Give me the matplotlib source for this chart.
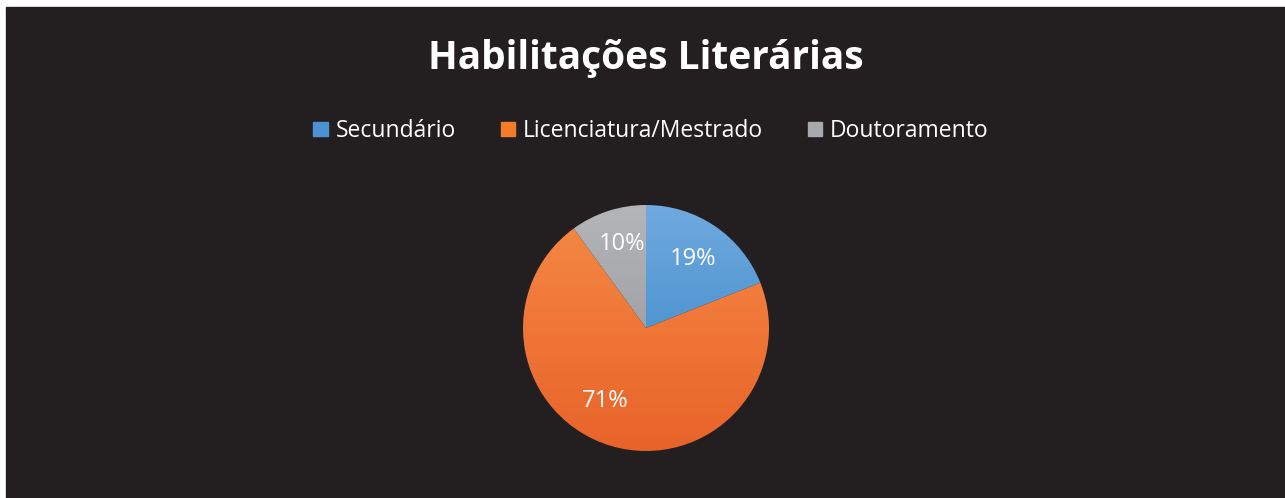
import numpy as np
import matplotlib
matplotlib.use("Agg")
import matplotlib.pyplot as plt
from matplotlib.colors import to_rgb
from matplotlib.patches import Rectangle

# dados
categorias = ["Secundário", "Licenciatura/Mestrado", "Doutoramento"]
valores = [19, 71, 10]
titulo = "Habilitações Literárias"

# cores (topo -> base do gradiente)
cores_topo = ["#70AADF", "#F58A44", "#B4B5B8"]
cores_base = ["#2F7FC3", "#E8632A", "#8F9095"]
cores_legenda = ["#4A92D2", "#F47B2A", "#A8A9AC"]

fundo = "#231F20"
plt.rcParams["font.family"] = ["Open Sans", "DejaVu Sans"]

fig = plt.figure(figsize=(12.85, 4.98), dpi=100)
fig.patch.set_facecolor("white")
fig.patches.append(Rectangle((6 / 1285, 0), 1 - 6 / 1285, 1 - 7 / 498,
                             transform=fig.transFigure, color=fundo, zorder=-10))

# eixo do grafico circular
cx, cy, r = 646, 328, 123
ax = fig.add_axes([(cx - r) / 1285, (498 - cy - r) / 498, 2 * r / 1285, 2 * r / 498])
ax.set_xlim(-1, 1)
ax.set_ylim(-1, 1)
ax.set_aspect("equal")
ax.axis("off")

wedges, textos, autotextos = ax.pie(valores, startangle=90, counterclock=False,
                                    radius=1, autopct="%.0f%%", pctdistance=0.7,
                                    textprops=dict(color="white", fontsize=17))

# gradiente vertical dentro de cada fatia
for w, c1, c2 in zip(wedges, cores_topo, cores_base):
    a = np.array(to_rgb(c1))
    b = np.array(to_rgb(c2))
    t = np.linspace(0, 1, 256)[:, None]
    grad = (a * (1 - t) + b * t)[:, None, :]
    w.set_facecolor("none")
    w.set_edgecolor("none")
    im = ax.imshow(grad, extent=[-1, 1, -1, 1], origin="upper",
                   aspect="auto", zorder=0, interpolation="bilinear")
    im.set_clip_path(w)
ax.set_xlim(-1, 1)
ax.set_ylim(-1, 1)

# posicao dos rotulos como no Excel
pos_rotulos = [(56, 0.68), (241, 0.68), (106, 0.71)]
for txt, (ang, d) in zip(autotextos, pos_rotulos):
    txt.set_position((d * np.cos(np.radians(ang)), d * np.sin(np.radians(ang))))
    txt.set_zorder(5)

fig.text(0.5027, 1 - 58 / 498, titulo, ha="center", va="center",
         color="white", fontsize=28, fontweight="bold")

handles = [Rectangle((0, 0), 1, 1, color=c) for c in cores_legenda]
leg = fig.legend(handles, categorias, loc="center", bbox_to_anchor=(651 / 1285, 1 - 131 / 498),
                 ncol=3, frameon=False, fontsize=16.5, labelcolor="white",
                 handlelength=0.62, handleheight=0.62, handletextpad=0.35,
                 columnspacing=1.95)

fig.savefig("out.png", dpi=100, facecolor=fig.get_facecolor())
